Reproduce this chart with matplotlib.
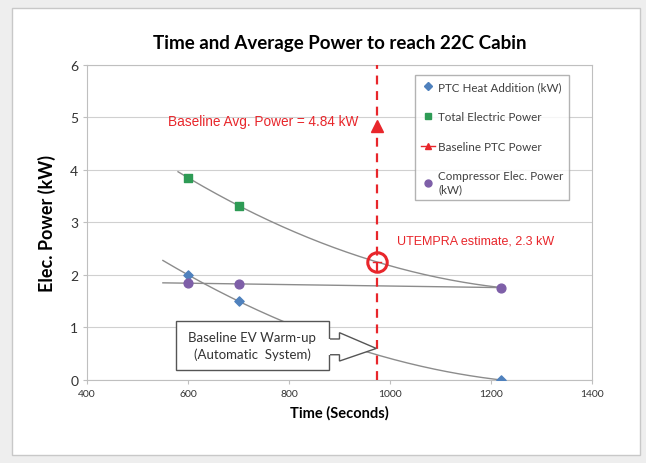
import numpy as np
import matplotlib.pyplot as plt
from matplotlib.patches import Rectangle, Polygon
from matplotlib.lines import Line2D

plt.rcParams['font.family'] = ['Lato', 'DejaVu Sans']

# data
ptc_t = [600, 700, 1220]
ptc_kw = [2.0, 1.5, 0.0]
total_t = [600, 700, 1220]
total_kw = [3.85, 3.32, 1.76]
comp_t = [600, 700, 1220]
comp_kw = [1.85, 1.82, 1.76]
baseline_t = 975
baseline_kw = 4.84
utempra_kw = 2.25
warmup_kw = 0.6

fig = plt.figure(figsize=(6.46, 4.64), dpi=100, facecolor='#eeeeee')
fig.patches.append(Rectangle((0.018, 0.018), 0.972, 0.962, transform=fig.transFigure,
                             facecolor='white', edgecolor='#c8c8c8', lw=1, zorder=-1))
ax = fig.add_axes([0.135, 0.179, 0.781, 0.679])

# trendlines (fitted through the points, like Excel)
def trend(t, y, deg, x0, x1):
    c = np.polyfit(t, y, deg)
    xs = np.linspace(x0, x1, 200)
    ax.plot(xs, np.polyval(c, xs), color='#8c8c8c', lw=1, zorder=2)

trend(total_t, total_kw, 2, 580, 1220)
trend(ptc_t, ptc_kw, 2, 550, 1220)
trend(comp_t, comp_kw, 1, 550, 1220)

ax.scatter(ptc_t, ptc_kw, marker='D', s=22, color='#4F81BD', zorder=4)
ax.scatter(total_t[:2], total_kw[:2], marker='s', s=30, color='#2E9B55', zorder=4)
ax.scatter(comp_t, comp_kw, marker='o', s=40, color='#7E5FA8', zorder=4)

ax.axvline(baseline_t, color='#e8262b', ls=(0, (4, 3)), lw=1.6, zorder=3)
ax.plot([baseline_t], [baseline_kw], marker='^', ms=8, color='#e8262b', zorder=5)
ax.plot([baseline_t], [utempra_kw], marker='o', ms=14, mfc='none', mec='#e8262b',
        mew=2.2, zorder=5)
ax.plot([baseline_t - 8, baseline_t + 8], [utempra_kw, utempra_kw], color='#e8262b', lw=1, zorder=5)

red_font = ['Liberation Sans', 'DejaVu Sans']
ax.text(938, 4.93, 'Baseline Avg. Power = 4.84 kW', color='#e8262b',
        fontsize=9.8, ha='right', va='center', family=red_font)
ax.text(1014, 2.66, 'UTEMPRA estimate, 2.3 kW', color='#e8262b',
        fontsize=9, ha='left', va='center', family=red_font)

# callout box with arrow
ax.add_patch(Rectangle((575, 0.18), 305, 0.95, facecolor='white', edgecolor='#555555', lw=1, zorder=6))
ax.add_patch(Polygon([(880, 0.78), (900, 0.78), (900, 0.90), (baseline_t - 2, warmup_kw),
                      (900, 0.36), (900, 0.48), (880, 0.48)],
                     closed=False, facecolor='white', edgecolor='#555555', lw=1, zorder=6))
ax.plot([880, 880], [0.49, 0.77], color='white', lw=1.5, zorder=7)
ax.text(727, 0.65, 'Baseline EV Warm-up\n(Automatic  System)', fontsize=9.5,
        ha='center', va='center', color='#333333', zorder=8, linespacing=1.4)

ax.set_xlim(400, 1400)
ax.set_ylim(0, 6)
ax.set_xticks(range(400, 1401, 200))
ax.set_yticks(range(0, 7))
ax.grid(axis='y', color='#d0d0d0', lw=0.8)
ax.set_axisbelow(True)
for s in ax.spines.values():
    s.set_color('#bfbfbf')
ax.tick_params(axis='x', labelsize=7.5, colors='#bfbfbf', labelcolor='#333333', length=3)
ax.tick_params(axis='y', labelsize=10, colors='#bfbfbf', labelcolor='#333333', length=3)

ax.set_title('Time and Average Power to reach 22C Cabin', fontsize=13.5, fontweight='bold', pad=12)
ax.set_xlabel('Time (Seconds)', fontsize=10.5, fontweight='bold', labelpad=5)
ax.set_ylabel('Elec. Power (kW)', fontsize=13, fontweight='bold', labelpad=10)

handles = [
    Line2D([], [], ls='none', marker='D', ms=4, color='#4F81BD'),
    Line2D([], [], ls='none', marker='s', ms=5, color='#2E9B55'),
    Line2D([], [], color='#e8262b', marker='^', ms=5, lw=1),
    Line2D([], [], ls='none', marker='o', ms=5, color='#7E5FA8'),
]
labels = ['PTC Heat Addition (kW)', 'Total Electric Power', 'Baseline PTC Power',
          'Compressor Elec. Power\n(kW)']
leg = ax.legend(handles, labels, loc='upper left', bbox_to_anchor=(0.638, 0.985),
                fontsize=8.4, frameon=True, fancybox=False, edgecolor='#a0a0a0',
                handlelength=1.2, handletextpad=0.3, labelspacing=1.6, borderpad=0.5)
leg.get_frame().set_linewidth(1)
for t in leg.get_texts():
    t.set_color('#404040')

fig.savefig('out.png', dpi=100, facecolor=fig.get_facecolor())
